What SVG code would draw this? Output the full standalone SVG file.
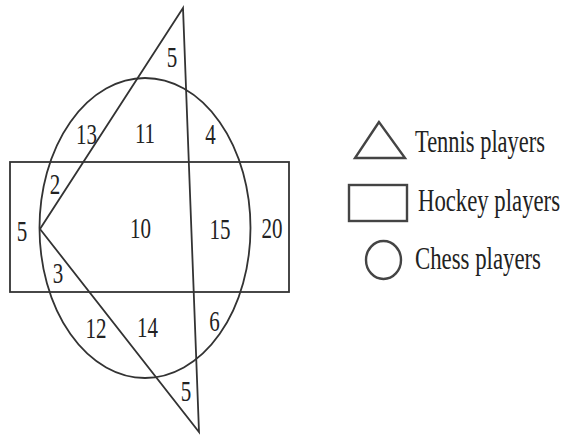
<svg xmlns="http://www.w3.org/2000/svg" width="566" height="435" viewBox="0 0 566 435">
<style>
.shape{fill:none;stroke:#333;stroke-width:1.8;stroke-linejoin:miter}
.lshape{fill:none;stroke:#444;stroke-width:2.4}
.num{font-family:"Liberation Serif","Times New Roman",serif;font-size:21px;fill:#222;text-anchor:middle;transform-box:fill-box;transform-origin:center;transform:scaleY(1.45)}
.leg{font-family:"Liberation Serif","Times New Roman",serif;font-size:22px;fill:#222;transform-box:fill-box;transform-origin:center;transform:scaleY(1.45)}
</style>
<rect width="566" height="435" fill="#fff"/>
<g id="hockey">
<rect class="shape" x="10" y="162" width="279" height="130"/>
</g>
<g id="chess">
<ellipse class="shape" cx="145" cy="228" rx="105.5" ry="150"/>
</g>
<g id="tennis">
<polygon class="shape" points="183,8 40,229 199,432"/>
</g>
<g id="regions">
<text class="num" x="172" y="64">5</text>
<text class="num" x="86.5" y="141">13</text>
<text class="num" x="145" y="140">11</text>
<text class="num" x="210.5" y="141">4</text>
<text class="num" x="55" y="191">2</text>
<text class="num" x="22" y="238">5</text>
<text class="num" x="140.5" y="234.6">10</text>
<text class="num" x="220" y="236">15</text>
<text class="num" x="272" y="234.6">20</text>
<text class="num" x="58" y="280">3</text>
<text class="num" x="96" y="335">12</text>
<text class="num" x="147.5" y="333.8">14</text>
<text class="num" x="214.5" y="327.8">6</text>
<text class="num" x="186" y="398">5</text>
</g>
<g id="legend-tennis">
<polygon class="lshape" points="379,122 355,158 405,158"/>
<text class="leg" x="415" y="148.4" textLength="130" lengthAdjust="spacingAndGlyphs">Tennis players</text>
</g>
<g id="legend-hockey">
<rect class="lshape" x="349" y="185" width="58" height="36"/>
<text class="leg" x="418" y="207.4" textLength="142" lengthAdjust="spacingAndGlyphs">Hockey players</text>
</g>
<g id="legend-chess">
<ellipse class="lshape" cx="383.5" cy="260" rx="17.5" ry="19"/>
<text class="leg" x="415" y="265.7" textLength="126" lengthAdjust="spacingAndGlyphs">Chess players</text>
</g>
</svg>
